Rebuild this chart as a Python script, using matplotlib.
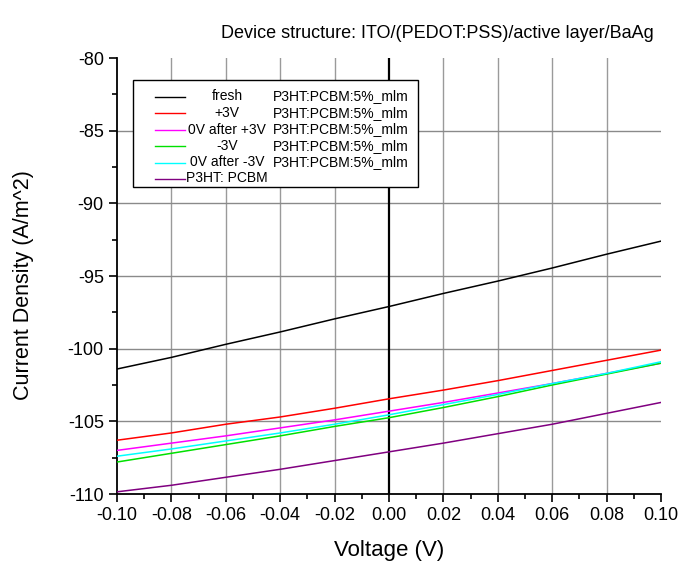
import numpy as np
import matplotlib
matplotlib.use("Agg")
import matplotlib.pyplot as plt
from matplotlib.ticker import MultipleLocator, FuncFormatter

plt.rcParams['font.family'] = ['Liberation Sans', 'DejaVu Sans']
plt.rcParams['axes.unicode_minus'] = False

# voltage sweep (V)
voltage = [-0.10, -0.08, -0.06, -0.04, -0.02, 0.00, 0.02, 0.04, 0.06, 0.08, 0.10]

# current density (A/m^2)
fresh = [-101.4, -100.6, -99.7, -98.85, -97.95, -97.1, -96.2, -95.35, -94.45, -93.5, -92.6]
plus3v = [-106.3, -105.8, -105.2, -104.7, -104.1, -103.45, -102.85, -102.2, -101.5, -100.8, -100.1]
after_plus3v = [-107.0, -106.5, -106.0, -105.45, -104.9, -104.3, -103.7, -103.05, -102.4, -101.7, -101.0]
minus3v = [-107.8, -107.2, -106.6, -106.0, -105.35, -104.75, -104.05, -103.3, -102.5, -101.75, -101.0]
after_minus3v = [-107.4, -106.9, -106.35, -105.8, -105.2, -104.55, -103.85, -103.15, -102.4, -101.7, -100.9]
reference = [-109.85, -109.4, -108.85, -108.3, -107.7, -107.1, -106.5, -105.85, -105.2, -104.45, -103.7]

series = [
    (fresh, 'black', 'fresh', 'P3HT:PCBM:5%_mlm'),
    (plus3v, 'red', '+3V', 'P3HT:PCBM:5%_mlm'),
    (after_plus3v, 'magenta', '0V after +3V', 'P3HT:PCBM:5%_mlm'),
    (minus3v, '#00e000', '-3V', 'P3HT:PCBM:5%_mlm'),
    (after_minus3v, 'cyan', '0V after -3V', 'P3HT:PCBM:5%_mlm'),
    (reference, 'purple', 'P3HT: PCBM', ''),
]

fig = plt.figure(figsize=(6.81, 5.67), dpi=100)
ax = fig.add_axes([117/681, 1-494/567, 544/681, 436/567])

ax.set_xlim(-0.10, 0.10)
ax.set_ylim(-110, -80)

# grid
for xv in np.arange(-0.08, 0.1, 0.02):
    if abs(xv) > 1e-9:
        ax.axvline(xv, color='#9a9a9a', lw=1.0, zorder=1)
for yv in np.arange(-105, -80, 5):
    ax.axhline(yv, color='#8a8a8a', lw=1.0, zorder=1)
ax.axvline(0, color='black', lw=1.6, zorder=2)

for y, c, lab1, lab2 in series:
    ax.plot(voltage, y, color=c, lw=1.1, zorder=3)

for s in ['top', 'right']:
    ax.spines[s].set_visible(False)
for s in ['left', 'bottom']:
    ax.spines[s].set_linewidth(1.3)

ax.xaxis.set_major_locator(MultipleLocator(0.02))
ax.xaxis.set_minor_locator(MultipleLocator(0.01))
ax.xaxis.set_major_formatter(FuncFormatter(lambda v, p: '%.2f' % (round(v, 4) + 0.0)))
ax.yaxis.set_major_locator(MultipleLocator(5))
ax.yaxis.set_minor_locator(MultipleLocator(2.5))
ax.tick_params(which='major', direction='out', length=6, width=1.2, labelsize=13)
ax.tick_params(which='minor', direction='out', length=3.5, width=1.2)

ax.set_xlabel('Voltage (V)', fontsize=16)
ax.xaxis.set_label_coords(0.5, (494 - 540) / 436)
ax.set_ylabel('Current Density (A/m^2)', fontsize=15.5)
ax.yaxis.set_label_coords((34 - 117) / 544, 0.48)
fig.text(437/681, 1-33/567, 'Device structure: ITO/(PEDOT:PSS)/active layer/BaAg',
         fontsize=13, ha='center', va='center')

# legend box drawn in pixel-based axes fractions
def ax_xy(px, py):
    return ((px - 117) / 544, (494 - py) / 436)

x0, y0 = ax_xy(133, 187)
x1, y1 = ax_xy(418, 80)
ax.add_patch(plt.Rectangle((x0, y0), x1 - x0, y1 - y0, transform=ax.transAxes,
                           facecolor='white', edgecolor='black', lw=1.0, zorder=5))
rows = [96.5, 113, 129.5, 146, 162.5, 178.5]
for (y, c, lab1, lab2), ry in zip(series, rows):
    lx0, ly = ax_xy(155, ry)
    lx1, _ = ax_xy(185, ry)
    ax.plot([lx0, lx1], [ly, ly], color=c, lw=1.0, transform=ax.transAxes, zorder=6)
    tx, _ = ax_xy(227, ry)
    ax.text(tx, ly, lab1, transform=ax.transAxes, ha='center', va='center', fontsize=10, zorder=6)
    if lab2:
        tx2, _ = ax_xy(273, ry)
        ax.text(tx2, ly, lab2, transform=ax.transAxes, ha='left', va='center', fontsize=10, zorder=6)

fig.savefig('out.png', dpi=100)
